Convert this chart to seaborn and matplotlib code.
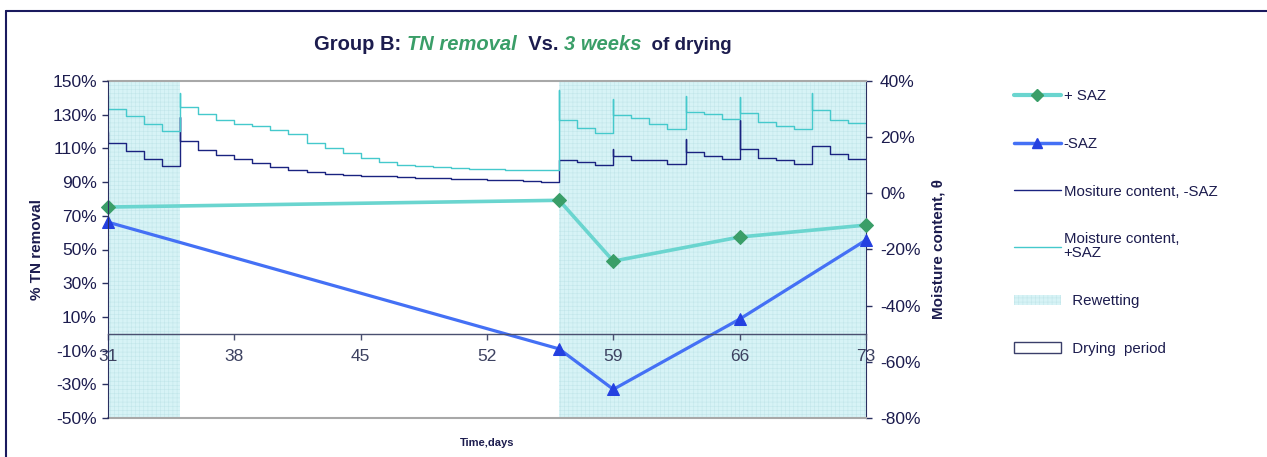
import matplotlib
matplotlib.use("Agg")
import matplotlib.pyplot as plt
import seaborn as sns
import numpy as np
from matplotlib.lines import Line2D
from matplotlib.patches import Patch
from matplotlib.ticker import FuncFormatter

# TN removal (%) at sampling days
tn_days = [31, 56, 59, 66, 73]
tn_plus_saz = [75.2, 79.2, 43.1, 57.4, 64.5]
tn_minus_saz = [66.2, -9.0, -33.0, 8.7, 55.6]

# moisture content (%), step data; repeated day = rewetting spike then new level
mc_plus_days = [31, 31, 32, 33, 34, 35, 35, 36, 37, 38, 39, 40, 41, 42, 43, 44, 45, 46, 47,
                48, 49, 50, 51, 52, 53, 54, 55, 56, 56, 57, 58, 59, 59, 60, 61, 62, 63, 63,
                64, 65, 66, 66, 67, 68, 69, 70, 70, 71, 72, 73]
mc_plus = [34.9, 30.1, 27.4, 24.8, 22.1, 35.7, 30.9, 28.2, 26.2, 24.8, 23.8, 22.5, 21.1, 18.1,
           16.3, 14.3, 12.7, 11.3, 10.2, 9.7, 9.5, 9.0, 8.8, 8.5, 8.4, 8.3, 8.2, 36.7, 26.0,
           23.4, 21.6, 33.7, 28.0, 26.8, 24.8, 23.0, 34.5, 28.9, 28.4, 26.6, 34.3, 28.6, 25.4,
           23.8, 23.0, 35.7, 29.5, 26.2, 25.0, 25.0]
mc_minus_days = [31, 31, 32, 33, 34, 35, 35, 36, 37, 38, 39, 40, 41, 42, 43, 44, 45, 46, 47,
                 48, 49, 50, 51, 52, 53, 54, 55, 56, 57, 58, 59, 59, 60, 61, 62, 63, 63, 64,
                 65, 66, 66, 67, 68, 69, 70, 71, 72, 73]
mc_minus = [22.0, 17.9, 14.9, 12.1, 9.6, 27.2, 18.5, 15.6, 13.8, 12.2, 10.8, 9.4, 8.3, 7.5,
            6.9, 6.7, 6.3, 6.0, 5.8, 5.6, 5.5, 5.2, 5.0, 4.9, 4.6, 4.3, 4.1, 11.7, 11.0, 10.0,
            15.9, 13.2, 12.0, 11.7, 10.6, 19.5, 14.7, 13.3, 12.1, 26.0, 15.9, 12.7, 11.7, 10.6,
            16.7, 13.9, 12.3, 12.3]

# rewetting periods (days)
rewet_periods = [(31, 35), (56, 73)]

x_ticks = [31, 38, 45, 52, 59, 66, 73]

sns.set_style("white")
plt.rcParams["font.family"] = ["Liberation Sans", "DejaVu Sans"]
plt.rcParams["hatch.linewidth"] = 0.4

navy = "#1c1c4e"
green = "#3a9e68"

fig = plt.figure(figsize=(12.67, 4.57), dpi=100)
ax = fig.add_axes([108 / 1267, 1 - 418 / 457, 758 / 1267, 337 / 457])
ax2 = ax.twinx()
ax.set_zorder(2)
ax2.set_zorder(1)
ax.patch.set_visible(False)

# rewetting shading
for a, b in rewet_periods:
    ax2.axvspan(a, b, facecolor="#d7f3f6", edgecolor="#c2e6ea", hatch="++++", lw=0, zorder=0)

# moisture content steps
sns.lineplot(x=mc_minus_days, y=mc_minus, ax=ax2, estimator=None, sort=False,
             drawstyle="steps-post", color="#1a2380", lw=1.0)
sns.lineplot(x=mc_plus_days, y=mc_plus, ax=ax2, estimator=None, sort=False,
             drawstyle="steps-post", color="#45c9cc", lw=1.0)

# TN removal
sns.lineplot(x=tn_days, y=tn_plus_saz, ax=ax, estimator=None, sort=False, color="#6ad5cf",
             lw=2.6, marker="D", markersize=7, markerfacecolor=green, markeredgecolor=green,
             clip_on=False)
sns.lineplot(x=tn_days, y=tn_minus_saz, ax=ax, estimator=None, sort=False, color="#4470f5",
             lw=2.3, marker="^", markersize=8, markerfacecolor="#2440e0",
             markeredgecolor="#2440e0", clip_on=False)

ax.set_xlim(31, 73)
ax.set_ylim(-50, 150)
ax.set_yticks(np.arange(-50, 151, 20))
ax.yaxis.set_major_formatter(FuncFormatter(lambda v, p: f"{v:.0f}%"))
ax.set_xticks(x_ticks)
ax2.set_ylim(-80, 40)
ax2.set_yticks(np.arange(-80, 41, 20))
ax2.yaxis.set_major_formatter(FuncFormatter(lambda v, p: f"{v:.0f}%"))

# spines
ax.spines["bottom"].set_position(("data", 0))
ax.spines["bottom"].set_color("#4a5070")
ax.spines["bottom"].set_linewidth(1.0)
ax.spines["top"].set_visible(False)
ax.spines["right"].set_visible(False)
ax.spines["left"].set_color("#2a2f60")
ax2.spines["left"].set_visible(False)
ax2.spines["right"].set_color("#2a2f60")
for s in ("top", "bottom"):
    ax2.spines[s].set_color("#a8a8a8")
    ax2.spines[s].set_linewidth(1.5)

ax.tick_params(axis="y", direction="out", length=4, width=1, color="#2a2f60",
               labelsize=12.5, labelcolor=navy, left=True, pad=4)
ax.tick_params(axis="x", direction="out", length=4, width=1, color="#4a5070",
               labelsize=12.5, labelcolor="#3c4160", bottom=True, pad=7)
ax2.tick_params(axis="y", direction="out", length=4, width=1, color="#2a2f60",
                labelsize=12.5, labelcolor=navy, right=True, pad=6)

ax.set_ylabel("% TN removal", fontsize=11, weight="bold", color=navy, labelpad=6)
ax2.set_ylabel("Moisture content, θ", fontsize=11, weight="bold", color=navy, labelpad=8)
ax.set_xlabel("")
ax2.set_xlabel("")
fig.text(487 / 1267, 1 - 443 / 457, "Time,days", fontsize=8, weight="bold", color=navy,
         ha="center", va="center")

# title in colored pieces
renderer = fig.canvas.get_renderer()
tx = 314 / 1267
ty = 1 - 45 / 457
parts = [("Group B: ", navy, "normal", 14.5), ("TN removal", green, "italic", 14.5),
         ("  Vs. ", navy, "normal", 14.5), ("3 weeks", green, "italic", 14.5),
         ("  of drying", navy, "normal", 13.5)]
for text, color, style, fs in parts:
    t = fig.text(tx, ty, text, color=color, style=style, weight="bold", fontsize=fs,
                 ha="left", va="center")
    bb = t.get_window_extent(renderer)
    tx = fig.transFigure.inverted().transform((bb.x1, bb.y0))[0]

# legend
handles = [
    Line2D([], [], color="#6ad5cf", lw=3, marker="D", markersize=6,
           markerfacecolor=green, markeredgecolor=green),
    Line2D([], [], color="#4470f5", lw=2.5, marker="^", markersize=7,
           markerfacecolor="#2440e0", markeredgecolor="#2440e0"),
    Line2D([], [], color="#1a2380", lw=1.0),
    Line2D([], [], color="#45c9cc", lw=1.0),
    Patch(facecolor="#d7f3f6", edgecolor="#c2e6ea", hatch="++++", lw=0),
    Patch(facecolor="white", edgecolor="#3a3f6a", lw=1.0),
]
labels = ["+ SAZ", "-SAZ", "Mositure content, -SAZ", "Moisture content,\n+SAZ",
          "  Rewetting", "  Drying  period"]
leg = fig.legend(handles, labels, loc="upper left", bbox_to_anchor=(1008 / 1267, 1 - 83 / 457),
                 frameon=False, fontsize=10.8, labelspacing=2.25, handlelength=3.1,
                 handletextpad=0.2, borderaxespad=0)
for txt in leg.get_texts():
    txt.set_color(navy)
    txt.set_linespacing(1.0)

# figure border (top and left)
fig.add_artist(Line2D([6 / 1267, 1], [1 - 11 / 457] * 2, transform=fig.transFigure,
                      color="#1a1a5e", lw=1.5))
fig.add_artist(Line2D([6 / 1267, 6 / 1267], [0, 1 - 11 / 457], transform=fig.transFigure,
                      color="#1a1a5e", lw=1.5))

fig.savefig("out.png", dpi=100)
